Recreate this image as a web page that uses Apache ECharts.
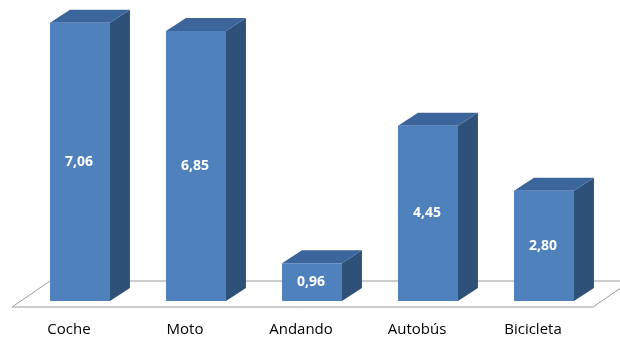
<!DOCTYPE html>
<html>
<head>
<meta charset="utf-8">
<script src="https://cdn.jsdelivr.net/npm/echarts@6/dist/echarts.min.js"></script>
<style>html,body{margin:0;padding:0;background:#fff;}#c{width:620px;height:338px;}</style>
</head>
<body>
<div id="c"></div>
<script>
const categories = ['Coche', 'Moto', 'Andando', 'Autobús', 'Bicicleta'];
const values = [7.06, 6.85, 0.96, 4.45, 2.80];
const valueLabels = ['7,06', '6,85', '0,96', '4,45', '2,80'];

const chart = echarts.init(document.getElementById('c'), null, {renderer: 'canvas'});
const FRONT = '#4F81BD', TOP = '#3C659B', SIDE = '#2F5079';

function renderBar(params, api) {
  const i = api.value(0);
  const v = api.value(1);
  const top = api.coord([i, v]);
  const base = api.coord([i, 0]);
  const band = api.size([1, 0])[0];
  const w = band * 0.517;
  const dx = band * 0.172, dy = -band * 0.112;
  const x0 = top[0] - w / 2, x1 = x0 + w;
  const yt = top[1], yb = base[1];
  return {
    type: 'group',
    children: [
      {type: 'polygon', shape: {points: [[x1, yt], [x1 + dx, yt + dy], [x1 + dx, yb + dy], [x1, yb]]}, style: {fill: SIDE}},
      {type: 'polygon', shape: {points: [[x0, yt], [x1, yt], [x1 + dx, yt + dy], [x0 + dx, yt + dy]]}, style: {fill: TOP}},
      {type: 'rect', shape: {x: x0, y: yt, width: w, height: yb - yt}, style: {fill: FRONT}},
      {type: 'text', x: (x0 + x1) / 2 - 1, y: (yt + yb) / 2, style: {text: valueLabels[params.dataIndex], fill: '#fff', font: 'bold 14px "Open Sans", sans-serif', align: 'center', verticalAlign: 'middle'}}
    ]
  };
}

function renderFloor(params, api) {
  const cs = params.coordSys;
  const yb = cs.y + cs.height;
  const fl = cs.x - 10, fr = cs.x + cs.width - 9, fy = yb + 6;
  const ddx = 38, ddy = -26;
  return {
    type: 'polygon',
    shape: {points: [[fl, fy], [fr, fy], [fr + ddx, fy + ddy], [fl + ddx, fy + ddy]]},
    style: {fill: '#fff', stroke: '#9a9a9a', lineWidth: 1}
  };
}

chart.setOption({
  animation: false,
  backgroundColor: '#fff',
  grid: {left: 22, right: 18, top: 5.5, bottom: 37},
  xAxis: {
    type: 'category',
    data: categories,
    axisLine: {show: false},
    axisTick: {show: false},
    axisLabel: {color: '#000', fontSize: 15, fontFamily: '"Open Sans", sans-serif', margin: 21, padding: [0, 22, 0, 0]}
  },
  yAxis: {type: 'value', min: 0, max: 7.5, show: false, splitLine: {show: false}},
  series: [
    {type: 'custom', renderItem: renderFloor, data: [[0, 0]], z: 1, silent: true},
    {type: 'custom', renderItem: renderBar, data: values.map((v, i) => [i, v]), z: 2}
  ]
});
</script>
</body>
</html>
